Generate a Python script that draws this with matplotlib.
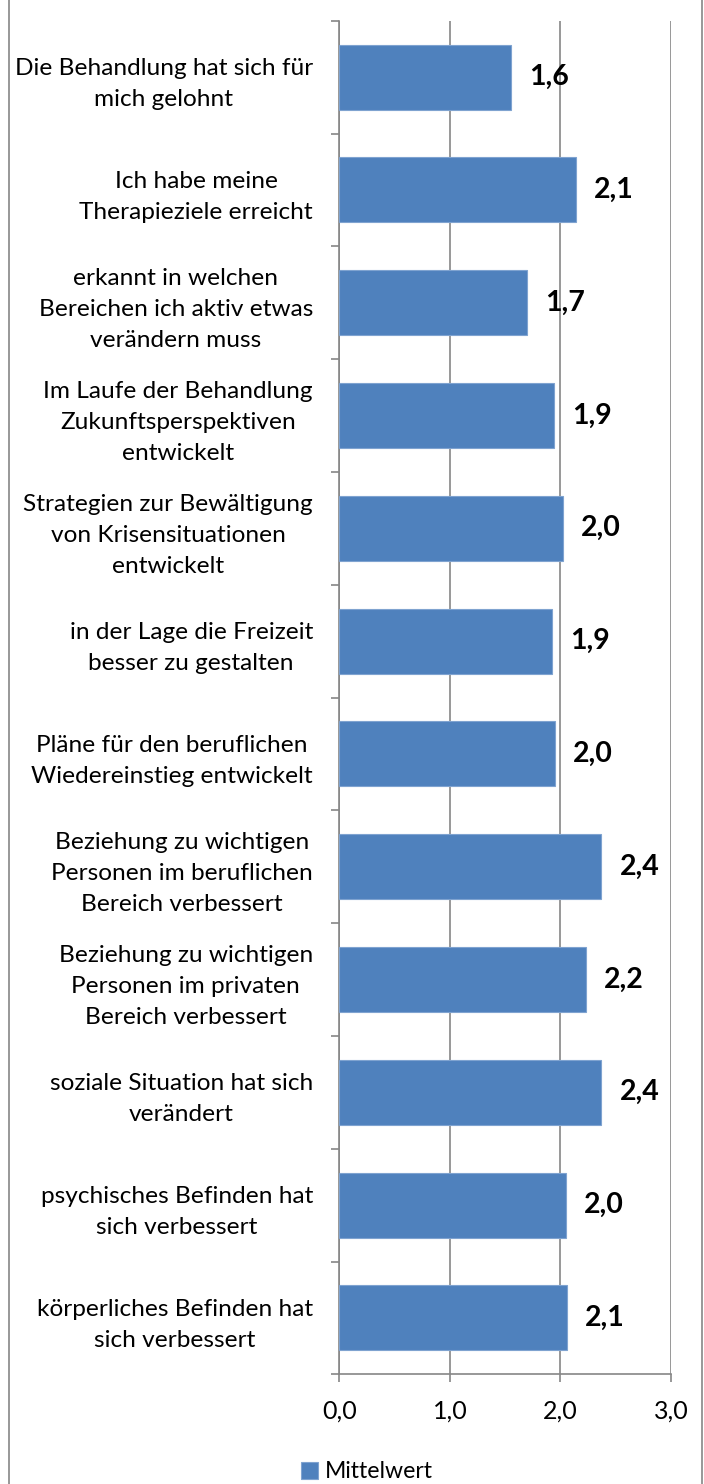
import matplotlib
matplotlib.use("Agg")
import matplotlib.pyplot as plt
from matplotlib.lines import Line2D

categories = [
    "Die Behandlung hat sich für\nmich gelohnt",
    "Ich habe meine\nTherapieziele erreicht",
    "erkannt in welchen\nBereichen ich aktiv etwas\nverändern muss",
    "Im Laufe der Behandlung\nZukunftsperspektiven\nentwickelt",
    "Strategien zur Bewältigung\nvon Krisensituationen\nentwickelt",
    "in der Lage die Freizeit\nbesser zu gestalten",
    "Pläne für den beruflichen\nWiedereinstieg entwickelt",
    "Beziehung zu wichtigen\nPersonen im beruflichen\nBereich verbessert",
    "Beziehung zu wichtigen\nPersonen im privaten\nBereich verbessert",
    "soziale Situation hat sich\nverändert",
    "psychisches Befinden hat\nsich verbessert",
    "körperliches Befinden hat\nsich verbessert",
]
values = [1.55, 2.14, 1.70, 1.94, 2.02, 1.92, 1.95, 2.37, 2.23, 2.37, 2.05, 2.06]
value_labels = ["1,6", "2,1", "1,7", "1,9", "2,0", "1,9", "2,0", "2,4", "2,2", "2,4", "2,0", "2,1"]
x_ticks = [0, 1, 2, 3]
x_ticklabels = ["0,0", "1,0", "2,0", "3,0"]
series_name = "Mittelwert"

plt.rcParams['font.family'] = ['Lato', 'DejaVu Sans']

W, H = 704, 1484
fig = plt.figure(figsize=(W / 100, H / 100), dpi=100)
ax = fig.add_axes([339.3 / W, (H - 1374.3) / H, (671 - 339.3) / W, (1374.3 - 20.7) / H])

bar_color = "#4F81BD"
grid_color = "#868686"
ypos = list(range(len(categories)))
bars = ax.barh(ypos, values, height=0.578, color=bar_color, edgecolor="#7FA3D0",
               linewidth=0.8, zorder=3, label=series_name)

ax.set_xlim(0, 3)
ax.set_ylim(len(categories) - 0.5, -0.5)

ax.set_xticks(x_ticks)
ax.set_xticklabels(x_ticklabels, fontsize=18)
ax.set_yticks(ypos)
ax.set_yticklabels(categories, fontsize=17.6, ha='right', multialignment='center', linespacing=1.58)
ax.set_yticks([i - 0.5 for i in range(len(categories) + 1)], minor=True)

ax.tick_params(axis='y', which='major', length=0, pad=19)
ax.tick_params(axis='y', which='minor', length=6, width=1.2, color=grid_color, direction='out')
ax.tick_params(axis='x', which='major', length=6, width=1.2, color=grid_color, direction='out', pad=12)

for s in ['top', 'right']:
    ax.spines[s].set_visible(False)
for s in ['left', 'bottom']:
    ax.spines[s].set_color(grid_color)
    ax.spines[s].set_linewidth(1.2)

ax.xaxis.grid(True, color=grid_color, linewidth=1.2, zorder=0)
ax.set_axisbelow(True)

for b, lab in zip(bars, value_labels):
    ax.annotate(lab, (b.get_width(), b.get_y() + b.get_height() / 2),
                xytext=(13, 0), textcoords='offset points',
                ha='left', va='center', fontsize=20.5, fontweight='bold', color='black')

# outer chart frame
fig.add_artist(Line2D([8.5 / W, 8.5 / W], [0, 1], transform=fig.transFigure, color=grid_color, linewidth=1.2))
fig.add_artist(Line2D([702 / W, 702 / W], [0, 1], transform=fig.transFigure, color=grid_color, linewidth=1.2))

fig.legend(handles=[bars], labels=[series_name], loc='center',
           bbox_to_anchor=(367 / W, 1 - 1472 / H), frameon=False, fontsize=16.6,
           handlelength=0.7, handleheight=0.7, handletextpad=0.3)

fig.savefig("out.png", dpi=100)
